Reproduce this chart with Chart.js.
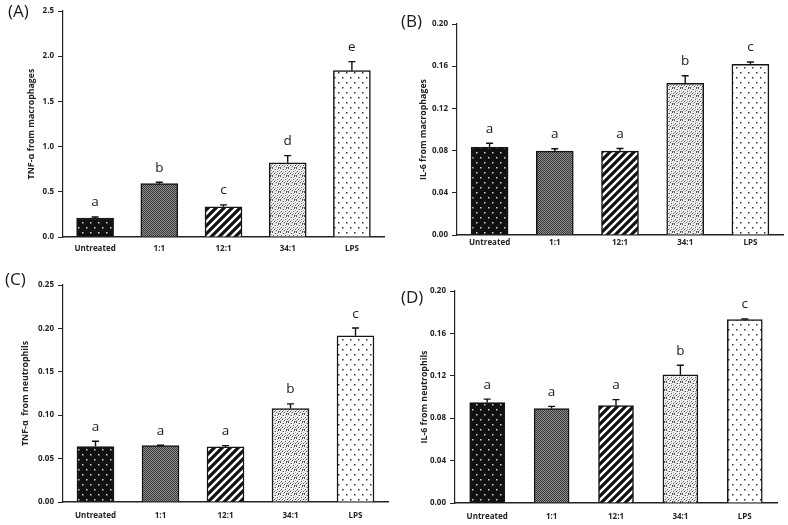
<!DOCTYPE html>
<html><head><meta charset="utf-8">
<script src="https://cdn.jsdelivr.net/npm/chart.js@4.4.1/dist/chart.umd.min.js"></script>
<style>
body{margin:0;background:#fff;width:788px;height:525px;position:relative;overflow:hidden}
canvas{position:absolute}
</style></head><body>
<canvas id="cA" width="394" height="262" style="left:0;top:0;width:394px;height:262px"></canvas>
<canvas id="cB" width="394" height="262" style="left:394px;top:0;width:394px;height:262px"></canvas>
<canvas id="cC" width="394" height="263" style="left:0;top:262px;width:394px;height:263px"></canvas>
<canvas id="cD" width="394" height="263" style="left:394px;top:262px;width:394px;height:263px"></canvas>
<script>
// ---- data ----
const categories = ['Untreated', '1:1', '12:1', '34:1', 'LPS'];

const tnfMacrophages    = [0.21, 0.59, 0.335, 0.82, 1.84];
const tnfMacrophagesErr = [0.012, 0.015, 0.02, 0.08, 0.10];
const tnfMacrophagesSig = ['a', 'b', 'c', 'd', 'e'];

const il6Macrophages    = [0.083, 0.0795, 0.0795, 0.1438, 0.1618];
const il6MacrophagesErr = [0.004, 0.0022, 0.0025, 0.0072, 0.0022];
const il6MacrophagesSig = ['a', 'a', 'a', 'b', 'c'];

const tnfNeutrophils    = [0.0638, 0.065, 0.0635, 0.1077, 0.1915];
const tnfNeutrophilsErr = [0.0062, 0.0004, 0.0015, 0.0053, 0.0089];
const tnfNeutrophilsSig = ['a', 'a', 'a', 'b', 'c'];

const il6Neutrophils    = [0.0947, 0.089, 0.0918, 0.121, 0.173];
const il6NeutrophilsErr = [0.0033, 0.0022, 0.0057, 0.0089, 0.0006];
const il6NeutrophilsSig = ['a', 'a', 'a', 'b', 'c'];

const yMaxA = 2.5,  yStepA = 0.5,  yDecA = 1;
const yMaxB = 0.20, yStepB = 0.04, yDecB = 2;
const yMaxC = 0.25, yStepC = 0.05, yDecC = 2;
const yMaxD = 0.20, yStepD = 0.04, yDecD = 2;

const titleA = 'TNF-\u03b1 from macrophages';
const titleB = 'IL-6 from macrophages';
const titleC = 'TNF-\u03b1  from neutrophils';
const titleD = 'IL-6 from neutrophils';

// ---- patterns ----
function makePattern(w, h, draw) {
  const c = document.createElement('canvas');
  c.width = w; c.height = h;
  const g = c.getContext('2d');
  draw(g, w, h);
  return g.createPattern(c, 'repeat');
}
const patUntreated = makePattern(8, 10, (g, w, h) => {
  g.fillStyle = '#111'; g.fillRect(0, 0, w, h);
  g.fillStyle = '#d8d8d8';
  g.fillRect(2, 2, 1.5, 1.5); g.fillRect(6, 7, 1.5, 1.5);
});
const pat11 = makePattern(2, 2, (g) => {
  g.fillStyle = '#8e8e8e'; g.fillRect(0, 0, 2, 2);
  g.fillStyle = '#383838'; g.fillRect(0, 0, 1, 1); g.fillRect(1, 1, 1, 1);
});
const pat121 = makePattern(8, 8, (g, w, h) => {
  g.fillStyle = '#fff'; g.fillRect(0, 0, w, h);
  g.strokeStyle = '#111'; g.lineWidth = 3.2; g.lineCap = 'square';
  g.beginPath();
  g.moveTo(-2, 10); g.lineTo(10, -2);
  g.moveTo(-6, 6); g.lineTo(6, -6);
  g.moveTo(2, 14); g.lineTo(14, 2);
  g.stroke();
});
const speckDark = [[0,0],[3,1],[6,0],[1,3],[5,3],[2,5],[7,5],[4,6],[0,7],[6,7]];
const speckLight = [[2,1],[5,1],[0,4],[3,4],[7,2],[1,6],[5,5],[3,7],[7,7]];
const pat341 = makePattern(8, 8, (g) => {
  g.fillStyle = '#f2f2f2'; g.fillRect(0, 0, 8, 8);
  g.fillStyle = '#505050'; speckDark.forEach(([x, y]) => g.fillRect(x, y, 1, 1));
  g.fillStyle = '#a8a8a8'; speckLight.forEach(([x, y]) => g.fillRect(x, y, 1, 1));
});
const patLPS = makePattern(8, 10, (g, w, h) => {
  g.fillStyle = '#fff'; g.fillRect(0, 0, w, h);
  g.fillStyle = '#333';
  g.fillRect(2, 2, 1.5, 1.5); g.fillRect(6, 7, 1.5, 1.5);
});
const barPatterns = [patUntreated, pat11, pat121, pat341, patLPS];

const FONT = '"Open Sans", Lato, sans-serif';

function extrasPlugin(p) {
  return {
    id: 'extras',
    afterDatasetsDraw(chart) {
      const ctx = chart.ctx, xs = chart.scales.x, ys = chart.scales.y;
      ctx.save();
      ctx.strokeStyle = '#111'; ctx.lineWidth = 1.4;
      p.values.forEach((v, i) => {
        const x = xs.getPixelForValue(i);
        const y0 = ys.getPixelForValue(v);
        const y1 = ys.getPixelForValue(v + p.errs[i]);
        ctx.beginPath();
        ctx.moveTo(x, y0); ctx.lineTo(x, y1);
        ctx.moveTo(x - 3.5, y1); ctx.lineTo(x + 3.5, y1);
        ctx.stroke();
      });
      ctx.fillStyle = '#1a1a1a';
      ctx.font = '13.5px ' + FONT;
      ctx.textAlign = 'center'; ctx.textBaseline = 'alphabetic';
      p.values.forEach((v, i) => {
        const x = xs.getPixelForValue(i);
        const y1 = ys.getPixelForValue(v + p.errs[i]);
        ctx.fillText(p.sig[i], x, y1 - 10.5);
      });
      ctx.restore();
    },
    afterDraw(chart) {
      const ctx = chart.ctx, a = chart.chartArea;
      ctx.save();
      ctx.fillStyle = '#222';
      ctx.font = 'bold 8.8px ' + FONT;
      ctx.translate(p.titleX, (a.top + a.bottom) / 2);
      ctx.rotate(-Math.PI / 2);
      ctx.textAlign = 'center'; ctx.textBaseline = 'middle';
      ctx.fillText(p.title, 0, 0);
      ctx.restore();
      ctx.save();
      ctx.fillStyle = '#1a1a1a';
      ctx.font = '17px ' + FONT;
      ctx.textAlign = 'left'; ctx.textBaseline = 'middle';
      ctx.fillText(p.label, p.labelX, p.labelY);
      ctx.restore();
    }
  };
}

function makeChart(id, p) {
  const cv = document.getElementById(id);
  const W = cv.width, H = cv.height;
  return new Chart(cv, {
    type: 'bar',
    data: {
      labels: categories,
      datasets: [{
        data: p.values,
        backgroundColor: barPatterns,
        borderColor: '#151515',
        borderWidth: 1.5,
        barThickness: p.barW
      }]
    },
    options: {
      responsive: false,
      devicePixelRatio: 1,
      animation: false,
      layout: { padding: { left: 0, top: p.top, right: W - p.right, bottom: 0 } },
      plugins: { legend: { display: false }, tooltip: { enabled: false } },
      scales: {
        x: {
          grid: { display: false, drawTicks: false },
          border: { display: true, color: '#222', width: 1.5 },
          ticks: { color: '#222', padding: p.xPad, font: { family: FONT, size: 8, weight: 'bold' }, maxRotation: 0 },
          afterFit: (s) => { s.height = H - p.bottom; }
        },
        y: {
          min: 0, max: p.yMax,
          grid: { drawOnChartArea: false, tickLength: 5, color: '#222', lineWidth: 1 },
          border: { display: true, color: '#222', width: 1.2 },
          ticks: {
            stepSize: p.yStep, color: '#222', padding: 4,
            font: { family: FONT, size: 8, weight: 'bold' },
            callback: (v) => Number(v).toFixed(p.yDec)
          },
          afterFit: (s) => { s.width = p.left; }
        }
      }
    },
    plugins: [extrasPlugin(p)]
  });
}

makeChart('cA', { values: tnfMacrophages, errs: tnfMacrophagesErr, sig: tnfMacrophagesSig,
  yMax: yMaxA, yStep: yStepA, yDec: yDecA, title: titleA, label: '(A)',
  left: 63, right: 384, top: 11, bottom: 237, xPad: 7, barW: 37,
  titleX: 31, labelX: 8, labelY: 12.5 });
makeChart('cB', { values: il6Macrophages, errs: il6MacrophagesErr, sig: il6MacrophagesSig,
  yMax: yMaxB, yStep: yStepB, yDec: yDecB, title: titleB, label: '(B)',
  left: 63, right: 389, top: 24, bottom: 235, xPad: 3, barW: 37,
  titleX: 29, labelX: 7, labelY: 22.5 });
makeChart('cC', { values: tnfNeutrophils, errs: tnfNeutrophilsErr, sig: tnfNeutrophilsSig,
  yMax: yMaxC, yStep: yStepC, yDec: yDecC, title: titleC, label: '(C)',
  left: 63, right: 388, top: 23, bottom: 240, xPad: 9, barW: 37,
  titleX: 25, labelX: 5, labelY: 18.5 });
makeChart('cD', { values: il6Neutrophils, errs: il6NeutrophilsErr, sig: il6NeutrophilsSig,
  yMax: yMaxD, yStep: yStepD, yDec: yDecD, title: titleD, label: '(D)',
  left: 61, right: 383, top: 29, bottom: 241, xPad: 9, barW: 35,
  titleX: 30, labelX: 7, labelY: 36.5 });
</script>
</body></html>
